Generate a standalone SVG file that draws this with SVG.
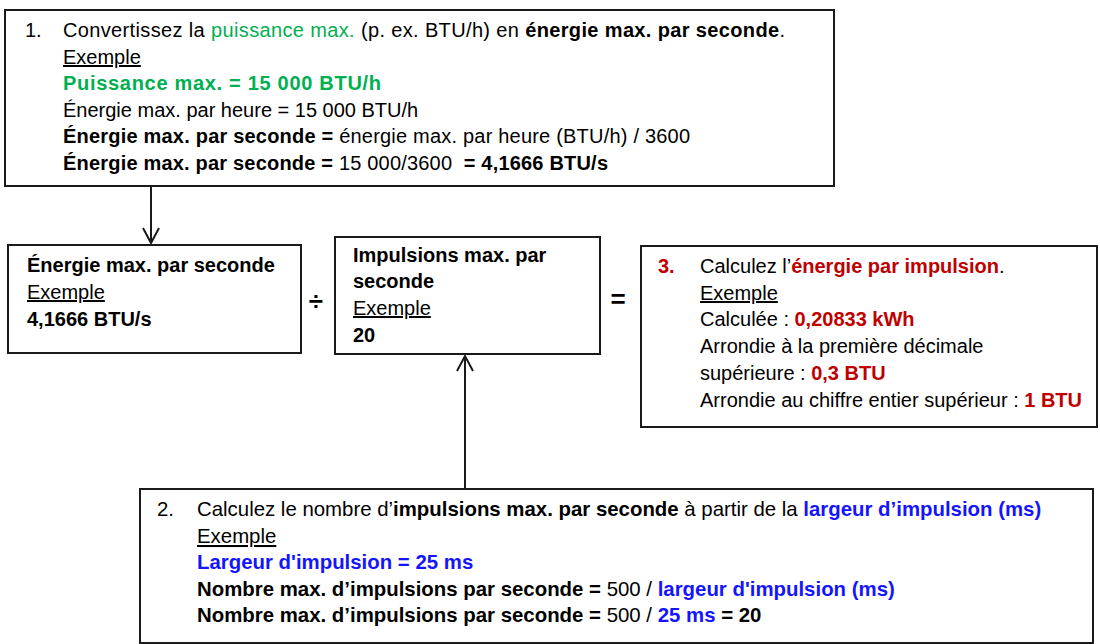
<svg xmlns="http://www.w3.org/2000/svg" width="1100" height="644" viewBox="0 0 1100 644">
<defs>
<style>
text{font-family:"Liberation Sans",Arial,sans-serif;font-size:20px;fill:#000;white-space:pre}
.b{font-weight:bold}
.g{fill:#00B050}
.r{fill:#C00000}
.bl{fill:#1414FF}
.u{text-decoration:underline}
.s2{font-size:20.4px}
.box{fill:#fff;stroke:#1a1a1a;stroke-width:2}
.con{fill:none;stroke:#1a1a1a;stroke-width:2}
.op{font-weight:bold;font-size:26px;text-anchor:middle}
</style>
<marker id="arr" viewBox="-17 -10 20 20" refX="0" refY="0" markerWidth="20" markerHeight="20" markerUnits="userSpaceOnUse" orient="auto">
<path d="M-15,-8 L0,0 L-15,8" fill="none" stroke="#1a1a1a" stroke-width="2"/>
</marker>
</defs>
<rect width="1100" height="644" fill="#fff"/>

<g id="connectors">
<line class="con" x1="151" y1="187" x2="151" y2="243" marker-end="url(#arr)"/>
<line class="con" x1="465" y1="488" x2="465" y2="356" marker-end="url(#arr)"/>
</g>

<g id="step1">
<rect class="box" x="5" y="10" width="829" height="176"/>
<text x="25" y="37">1.</text>
<text x="63" y="37" textLength="722" lengthAdjust="spacing">Convertissez la <tspan class="g">puissance max.</tspan> (p. ex. BTU/h) en <tspan class="b">énergie max. par seconde</tspan>.</text>
<text x="63" y="64" class="u">Exemple</text>
<text x="63" y="90" class="b g" textLength="318" lengthAdjust="spacing">Puissance max. = 15 000 BTU/h</text>
<text x="63" y="117">Énergie max. par heure = 15 000 BTU/h</text>
<text x="63" y="143" textLength="627" lengthAdjust="spacing"><tspan class="b">Énergie max. par seconde =</tspan> énergie max. par heure (BTU/h) / 3600</text>
<text x="63" y="170" textLength="545" lengthAdjust="spacing"><tspan class="b">Énergie max. par seconde =</tspan> 15 000/3600 <tspan class="b"> = 4,1666 BTU/s</tspan></text>
</g>

<g id="energy">
<rect class="box" x="8" y="245" width="293" height="108"/>
<text x="27" y="272" class="b">Énergie max. par seconde</text>
<text x="27" y="299" class="u">Exemple</text>
<text x="27" y="326" class="b">4,1666 BTU/s</text>
</g>

<g id="divide">
<text x="316" y="310" class="op">÷</text>
</g>

<g id="impulses">
<rect class="box" x="335" y="237" width="265" height="117"/>
<text x="353" y="262" class="b">Impulsions max. par</text>
<text x="353" y="288" class="b">seconde</text>
<text x="353" y="315" class="u">Exemple</text>
<text x="353" y="342" class="b">20</text>
</g>

<g id="equals">
<text x="618" y="308" class="op">=</text>
</g>

<g id="step3">
<rect class="box" x="641" y="246" width="456" height="181"/>
<text x="658" y="273" class="b r">3.</text>
<text x="700" y="273">Calculez l’<tspan class="b r">énergie par impulsion</tspan>.</text>
<text x="700" y="300" class="u">Exemple</text>
<text x="700" y="326">Calculée : <tspan class="b r">0,20833 kWh</tspan></text>
<text x="700" y="353">Arrondie à la première décimale</text>
<text x="700" y="380">supérieure : <tspan class="b r">0,3 BTU</tspan></text>
<text x="700" y="407">Arrondie au chiffre entier supérieur : <tspan class="b r">1 BTU</tspan></text>
</g>

<g id="step2">
<rect class="box" x="140" y="489" width="953" height="154"/>
<text x="157" y="516" class="s2">2.</text>
<text x="197" y="516" class="s2">Calculez le nombre d’<tspan class="b">impulsions max. par seconde</tspan> à partir de la <tspan class="b bl">largeur d’impulsion (ms)</tspan></text>
<text x="197" y="543" class="u s2">Exemple</text>
<text x="197" y="569" class="b bl s2">Largeur d'impulsion = 25 ms</text>
<text x="197" y="596" class="s2"><tspan class="b">Nombre max. d’impulsions par seconde =</tspan> 500 / <tspan class="b bl">largeur d'impulsion (ms)</tspan></text>
<text x="197" y="622" class="s2"><tspan class="b">Nombre max. d’impulsions par seconde =</tspan> 500 / <tspan class="b bl">25 ms</tspan><tspan class="b"> = 20</tspan></text>
</g>
</svg>
